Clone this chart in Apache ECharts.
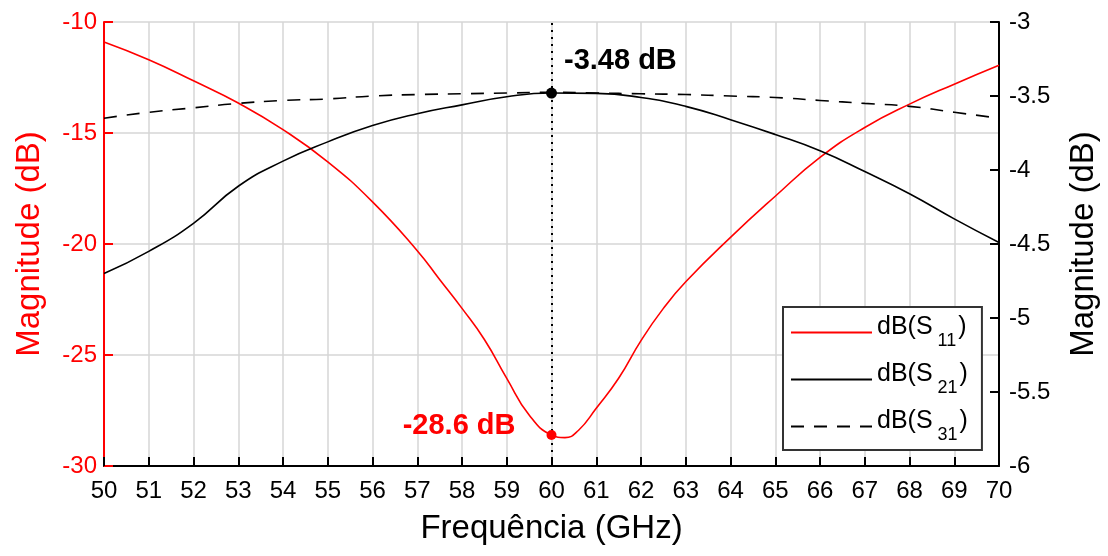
<!DOCTYPE html>
<html>
<head>
<meta charset="utf-8">
<script src="https://cdn.jsdelivr.net/npm/echarts@6/dist/echarts.min.js"></script>
<style>
  html, body { margin: 0; padding: 0; background: #fff; }
  #chart { width: 1108px; height: 556px; }
</style>
</head>
<body>
<div id="chart"></div>
<script>
// frequency axis (GHz)
const freqs = [50, 51, 52, 53, 54, 55, 56, 57, 58, 59, 60, 61, 62, 63, 64, 65, 66, 67, 68, 69, 70];

// S11 needs more points around the dip
const s11Freqs = [50, 51, 52, 53, 54, 55, 56, 57, 57.5, 58, 58.5, 59, 59.5, 60, 60.3, 60.6, 61, 61.5, 62, 62.5, 63, 64, 65, 66, 67, 68, 69, 70];
const s11 = [-10.9, -11.7, -12.65, -13.65, -14.85, -16.3, -18.1, -20.3, -21.6, -22.9, -24.3, -26.05, -27.7, -28.6, -28.72, -28.4, -27.4, -26.05, -24.35, -22.9, -21.7, -19.7, -17.85, -16.1, -14.75, -13.7, -12.8, -11.95];

const s21 = [-4.70, -4.55, -4.36, -4.11, -3.94, -3.81, -3.70, -3.62, -3.56, -3.505, -3.48, -3.482, -3.51, -3.57, -3.66, -3.76, -3.87, -4.01, -4.16, -4.33, -4.49];
const s31 = [-3.65, -3.61, -3.58, -3.55, -3.53, -3.52, -3.50, -3.49, -3.485, -3.48, -3.475, -3.48, -3.485, -3.49, -3.50, -3.51, -3.53, -3.55, -3.57, -3.61, -3.65];

const seriesNames = ["dB(S11)", "dB(S21)", "dB(S31)"];
const subLabels = { "dB(S11)": "11", "dB(S21)": "21", "dB(S31)": "31" };

const markerFreq = 60;
const s21Peak = -3.48;
const s11Dip = -28.6;

const FONT = "'Liberation Sans', Arial, sans-serif";
const RED = "#ff0000";

const zip = (xs, ys) => xs.map((x, i) => [x, ys[i]]);

const chart = echarts.init(document.getElementById("chart"));

chart.setOption({
  animation: false,
  textStyle: { fontFamily: FONT },
  grid: { left: 104, right: 108, top: 22, bottom: 90 },
  legend: {
    data: seriesNames,
    orient: "vertical",
    left: 783,
    top: 307,
    align: "left",
    itemWidth: 81,
    itemHeight: 14,
    itemGap: 12,
    padding: [8, 14, 6, 7],
    borderColor: "#333",
    borderWidth: 2,
    backgroundColor: "#fff",
    itemStyle: { opacity: 0 },
    formatter: (name) => `{b|dB(S}{sub|${subLabels[name]}}{b|)}`,
    textStyle: {
      fontFamily: FONT,
      rich: {
        b: { fontSize: 25, color: "#000", fontFamily: FONT, verticalAlign: "top", padding: [0, 0, 10, 0] },
        sub: { fontSize: 18, color: "#000", fontFamily: FONT, verticalAlign: "bottom", padding: [14, 2, 0, 5] },
      },
    },
  },
  xAxis: {
    type: "value",
    min: 50,
    max: 70,
    interval: 1,
    name: "Frequência (GHz)",
    nameLocation: "middle",
    nameGap: 46,
    nameTextStyle: { fontSize: 33, color: "#000", fontFamily: FONT },
    axisLine: { lineStyle: { color: "#000", width: 2 } },
    axisTick: { inside: true, length: 9, lineStyle: { color: "#000", width: 2 } },
    axisLabel: { fontSize: 24, color: "#000", margin: 13, fontFamily: FONT },
    splitLine: { show: true, lineStyle: { color: "#d6d6d6", width: 1.5 } },
  },
  yAxis: [
    {
      type: "value",
      min: -30,
      max: -10,
      interval: 5,
      name: "Magnitude (dB)",
      nameLocation: "middle",
      nameRotate: 90,
      nameGap: 58,
      nameTextStyle: { fontSize: 33, color: RED, fontFamily: FONT },
      axisLine: { show: true, lineStyle: { color: RED, width: 2 } },
      axisTick: { show: true, inside: true, length: 9, lineStyle: { color: RED, width: 2 } },
      axisLabel: { fontSize: 24, color: RED, margin: 7, fontFamily: FONT },
      splitLine: { show: true, lineStyle: { color: "#d6d6d6", width: 1.5 } },
    },
    {
      type: "value",
      position: "right",
      min: -6,
      max: -3,
      interval: 0.5,
      name: "Magnitude (dB)",
      nameLocation: "middle",
      nameRotate: 90,
      nameGap: 68,
      nameTextStyle: { fontSize: 33, color: "#000", fontFamily: FONT },
      axisLine: { show: true, lineStyle: { color: "#000", width: 2 } },
      axisTick: { show: true, inside: true, length: 9, lineStyle: { color: "#000", width: 2 } },
      axisLabel: { fontSize: 24, color: "#000", margin: 10, fontFamily: FONT },
      splitLine: { show: false },
    },
  ],
  series: [
    {
      name: "dB(S11)",
      type: "line",
      yAxisIndex: 0,
      data: zip(s11Freqs, s11),
      smooth: 0.5,
      symbol: "none",
      lineStyle: { color: RED, width: 1.6 },
      itemStyle: { color: RED },
      z: 3,
      markLine: {
        silent: true,
        symbol: "none",
        label: { show: false },
        lineStyle: { color: "#000", type: [2, 5], width: 2 },
        data: [{ xAxis: markerFreq }],
      },
    },
    {
      name: "dB(S21)",
      type: "line",
      yAxisIndex: 1,
      data: zip(freqs, s21),
      smooth: 0.5,
      symbol: "none",
      lineStyle: { color: "#000", width: 1.6 },
      itemStyle: { color: "#000" },
      z: 3,
    },
    {
      name: "dB(S31)",
      type: "line",
      yAxisIndex: 1,
      data: zip(freqs, s31),
      smooth: 0.5,
      symbol: "none",
      lineStyle: { color: "#000", width: 1.6, type: [13, 10] },
      itemStyle: { color: "#000" },
      z: 3,
    },
    {
      name: "s21 marker",
      type: "scatter",
      yAxisIndex: 1,
      data: [[markerFreq, s21Peak]],
      symbolSize: 11,
      itemStyle: { color: "#000", opacity: 1 },
      z: 5,
      label: {
        show: true,
        position: "right",
        offset: [2, -32],
        formatter: `${s21Peak} dB`,
        fontSize: 29,
        fontWeight: "bold",
        color: "#000",
        fontFamily: FONT,
      },
    },
    {
      name: "s11 marker",
      type: "scatter",
      yAxisIndex: 0,
      data: [[markerFreq, s11Dip]],
      symbolSize: 10,
      itemStyle: { color: RED, opacity: 1 },
      z: 5,
      label: {
        show: true,
        position: "left",
        offset: [-26, -9],
        formatter: `${s11Dip} dB`,
        fontSize: 29,
        fontWeight: "bold",
        color: RED,
        fontFamily: FONT,
      },
    },
  ],
});
</script>
</body>
</html>
